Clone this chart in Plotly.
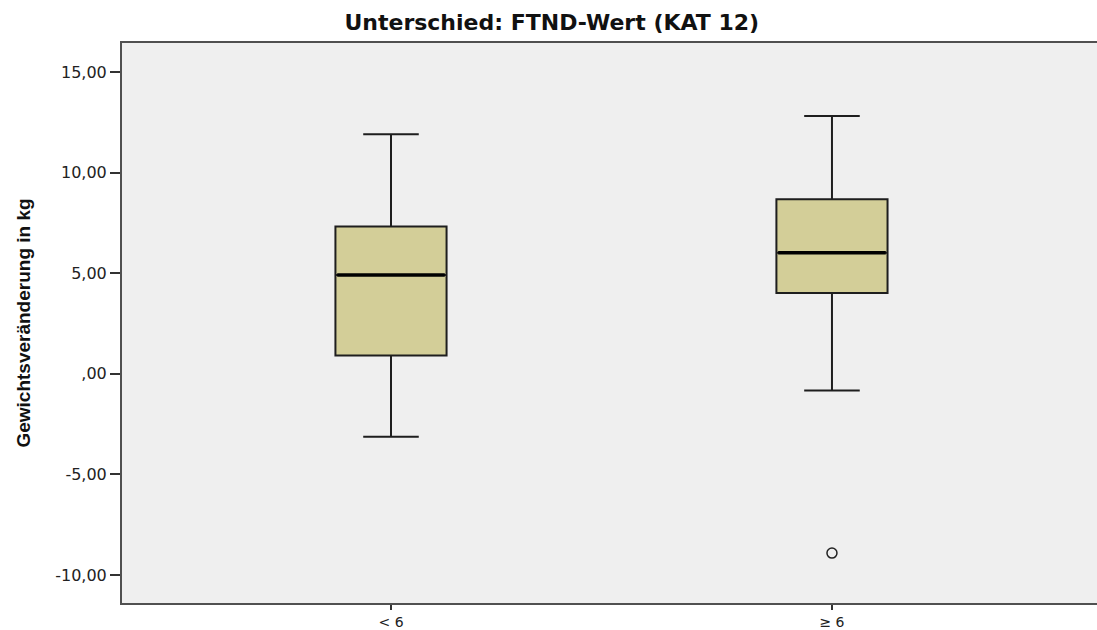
import plotly.graph_objects as go

categories = ["< 6", "\u2265 6"]
q1 = [0.91, 4.01]
median = [4.91, 6.01]
q3 = [7.32, 8.68]
lower_whisker = [-3.13, -0.83]
upper_whisker = [11.91, 12.81]
outlier_cat = [1]
outlier_val = [-8.91]

y_tick_vals = [15, 10, 5, 0, -5, -10]
y_tick_text = ["15,00", "10,00", "5,00", ",00", "-5,00", "-10,00"]

x_pos = list(range(len(categories)))
box_width = 0.252
fill_color = "#D3CE98"

fig = go.Figure()
fig.add_trace(go.Box(
    x=x_pos, q1=q1, median=median, q3=q3,
    lowerfence=lower_whisker, upperfence=upper_whisker,
    width=box_width, whiskerwidth=0.5,
    fillcolor=fill_color, line=dict(color="#1e1e1e", width=2),
    boxpoints=False, showlegend=False, hoverinfo="skip",
))
for i, m in enumerate(median):
    fig.add_trace(go.Scatter(
        x=[x_pos[i] - box_width / 2 + 0.004, x_pos[i] + box_width / 2 - 0.004],
        y=[m, m], mode="lines", line=dict(color="black", width=3.5),
        showlegend=False, hoverinfo="skip",
    ))
fig.add_trace(go.Scatter(
    x=outlier_cat, y=outlier_val, mode="markers",
    marker=dict(symbol="circle-open", size=10, color="#222", line=dict(width=1.5)),
    showlegend=False, hoverinfo="skip",
))

fig.update_layout(
    width=1097, height=630,
    margin=dict(l=122, r=0, t=43, b=27),
    paper_bgcolor="white", plot_bgcolor="#EFEFEF",
    title=dict(text="<b>Unterschied: FTND-Wert (KAT 12)</b>", x=0.503, xref="container",
               xanchor="center", y=1 - 22 / 630, yref="container", yanchor="middle",
               font=dict(family="DejaVu Sans, sans-serif", size=22, color="#111")),
    font=dict(family="DejaVu Sans, sans-serif", color="#222"),
)
fig.update_xaxes(
    range=[-0.61, 1.601], tickvals=x_pos, ticktext=categories,
    showgrid=False, zeroline=False, showline=True, mirror=True,
    linecolor="#505050", linewidth=2, ticks="outside", ticklen=5, tickwidth=2,
    tickcolor="#333", tickfont=dict(size=14, color="#222"),
)
fig.update_yaxes(
    range=[-11.39, 16.44], tickvals=y_tick_vals, ticktext=y_tick_text,
    showgrid=False, zeroline=False, showline=True, mirror=False,
    linecolor="#505050", linewidth=2, ticks="outside", ticklen=10, tickwidth=2,
    tickcolor="#333", tickfont=dict(size=16, color="#222"),
    title=dict(text="<b>Gewichtsveränderung in kg</b>", standoff=20,
               font=dict(family="Liberation Sans, Arial, sans-serif", size=19, color="#111")),
)

fig.write_html("out.html", config={"displayModeBar": False},
               post_script="document.body.style.margin='0';")
